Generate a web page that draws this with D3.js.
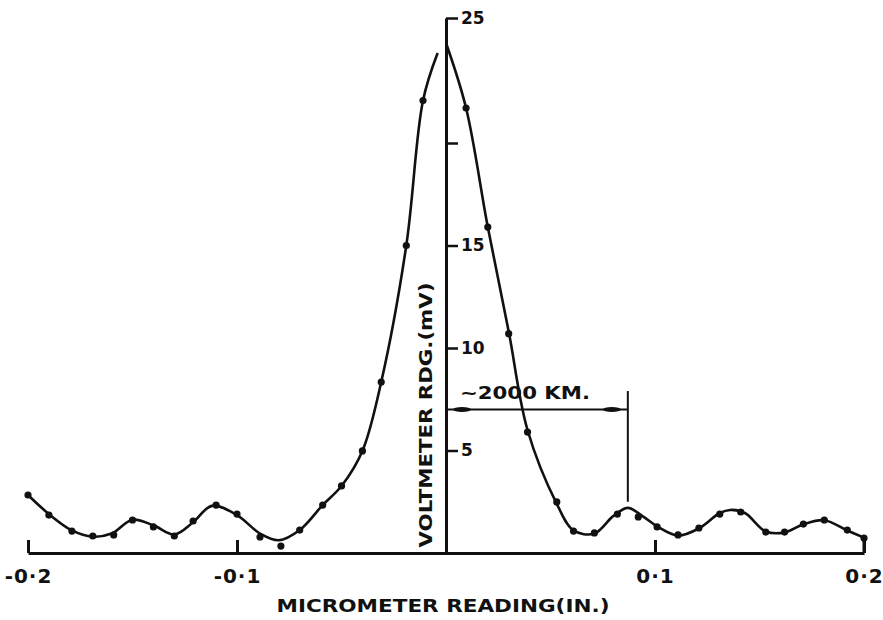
<!DOCTYPE html>
<html>
<head>
<meta charset="utf-8">
<script src="https://cdn.jsdelivr.net/npm/d3@7"></script>
<style>
  body { margin: 0; background: #fff; }
  text { font-family: "DejaVu Sans", sans-serif; font-weight: bold; fill: #111; }
</style>
</head>
<body>
<div id="canvas"></div>
<script>
const width = 883;
const height = 620;

// measured points (micrometer reading in inches, voltmeter reading in mV)
const leftX = [-0.200, -0.190, -0.179, -0.169, -0.159, -0.150, -0.140, -0.130, -0.121, -0.110,
               -0.100, -0.089, -0.079, -0.070, -0.059, -0.050, -0.040, -0.031, -0.019, -0.011];
const leftY = [2.83, 1.85, 1.07, 0.83, 0.88, 1.61, 1.27, 0.83, 1.56, 2.34,
               1.90, 0.78, 0.34, 1.12, 2.34, 3.27, 4.98, 8.34, 15.0, 21.7];
const rightX = [0.0096, 0.020, 0.030, 0.039, 0.053, 0.061, 0.071, 0.082, 0.092, 0.101,
                0.111, 0.121, 0.131, 0.141, 0.153, 0.162, 0.171, 0.181, 0.192, 0.200];
const rightY = [21.4, 15.9, 10.7, 5.9, 2.49, 1.07, 0.98, 1.90, 1.76, 1.27,
                0.88, 1.22, 1.90, 2.0, 1.02, 1.02, 1.41, 1.61, 1.12, 0.73];

// hand drawn smooth curve
const fitLeftX = [-0.200, -0.190, -0.179, -0.169, -0.160, -0.150, -0.140, -0.130, -0.121, -0.112,
                  -0.100, -0.089, -0.080, -0.070, -0.059, -0.050, -0.040, -0.031, -0.019, -0.011, -0.004];
const fitLeftY = [2.83, 1.9, 1.1, 0.8, 0.95, 1.62, 1.35, 0.9, 1.5, 2.3,
                  1.85, 0.95, 0.62, 1.12, 2.34, 3.27, 4.98, 8.34, 15.0, 21.7, 23.6];
const fitRightX = [0.000, 0.0096, 0.020, 0.030, 0.039, 0.053, 0.061, 0.071, 0.080, 0.087,
                   0.094, 0.101, 0.111, 0.121, 0.131, 0.136, 0.143, 0.153, 0.162, 0.171,
                   0.181, 0.192, 0.200];
const fitRightY = [24.0, 21.4, 15.9, 10.8, 6.0, 2.4, 1.1, 0.95, 1.8, 2.2,
                   1.8, 1.3, 0.85, 1.2, 1.95, 2.1, 1.95, 1.05, 1.0, 1.4,
                   1.6, 1.1, 0.75];

const xTicks = [-0.2, -0.1, 0.1, 0.2];
const xTickLabels = ["-0·2", "-0·1", "0·1", "0·2"];
const yTicks = [5, 10, 15, 20, 25];
const yTickLabels = ["5", "10", "15", "", "25"];

const svg = d3.select("#canvas")
    .append("svg")
    .attr("width", width)
    .attr("height", height);

const x = d3.scaleLinear().domain([-0.2, 0.2]).range([28, 864]);
// scale on the original drawing is stretched at the very top
const y = d3.scaleLinear().domain([0, 20, 25]).range([553, 143, 18]);

// x axis, ticks pointing up
const xAxis = svg.append("g")
    .attr("transform", `translate(0,${y(0)})`)
    .call(d3.axisBottom(x)
        .tickValues(xTicks)
        .tickSizeInner(-13)
        .tickSizeOuter(0)
        .tickFormat((d, i) => xTickLabels[i]));
xAxis.select(".domain").attr("stroke", "#111").attr("stroke-width", 3);
xAxis.selectAll(".tick line").attr("stroke", "#111").attr("stroke-width", 3);
xAxis.selectAll(".tick text")
    .attr("y", 30)
    .attr("dy", 0)
    .attr("font-size", 20)
    .attr("letter-spacing", 1)
    .attr("fill", "#111");

// y axis at x = 0
const yAxis = svg.append("g")
    .attr("transform", `translate(${x(0)},0)`)
    .call(d3.axisRight(y)
        .tickValues(yTicks)
        .tickSizeInner(12)
        .tickSizeOuter(0)
        .tickPadding(3)
        .tickFormat((d, i) => yTickLabels[i]));
yAxis.select(".domain").attr("stroke", "#111").attr("stroke-width", 3);
yAxis.selectAll(".tick line").attr("stroke", "#111").attr("stroke-width", 2.5);
yAxis.selectAll(".tick text")
    .attr("font-size", 17)
    .attr("fill", "#111");

// smooth curves
const line = d3.line()
    .x(d => x(d[0]))
    .y(d => y(d[1]))
    .curve(d3.curveCatmullRom.alpha(0.5));

svg.append("path")
    .attr("d", line(fitLeftX.map((v, i) => [v, fitLeftY[i]])))
    .attr("fill", "none")
    .attr("stroke", "#111")
    .attr("stroke-width", 2.6);

svg.append("path")
    .attr("d", line(fitRightX.map((v, i) => [v, fitRightY[i]])))
    .attr("fill", "none")
    .attr("stroke", "#111")
    .attr("stroke-width", 2.6);

// data dots
const pts = leftX.map((v, i) => [v, leftY[i]]).concat(rightX.map((v, i) => [v, rightY[i]]));
svg.selectAll(".dot")
    .data(pts)
    .enter()
    .append("circle")
    .attr("class", "dot")
    .attr("cx", d => x(d[0]))
    .attr("cy", d => y(d[1]))
    .attr("r", 3.6)
    .attr("fill", "#111");

// last point sits on a stalk down to the axis
svg.append("line")
    .attr("x1", x(0.2)).attr("x2", x(0.2))
    .attr("y1", y(0)).attr("y2", y(0.73))
    .attr("stroke", "#111").attr("stroke-width", 3);

// ~2000 km marker
const spanY = 7.0;
svg.append("line")
    .attr("x1", x(0)).attr("x2", x(0.087))
    .attr("y1", y(spanY)).attr("y2", y(spanY))
    .attr("stroke", "#111").attr("stroke-width", 2);
svg.append("line")
    .attr("x1", x(0.087)).attr("x2", x(0.087))
    .attr("y1", y(7.9)).attr("y2", y(2.5))
    .attr("stroke", "#111").attr("stroke-width", 2);
svg.append("ellipse")
    .attr("cx", x(0) + 16).attr("cy", y(spanY))
    .attr("rx", 9).attr("ry", 2.5).attr("fill", "#111");
svg.append("ellipse")
    .attr("cx", x(0.087) - 16).attr("cy", y(spanY))
    .attr("rx", 9).attr("ry", 2.5).attr("fill", "#111");
svg.append("text")
    .attr("x", 460)
    .attr("y", y(spanY) - 11)
    .attr("font-size", 17)
    .attr("textLength", 130)
    .attr("lengthAdjust", "spacingAndGlyphs")
    .text("~2000 KM.");

// axis titles
svg.append("text")
    .attr("x", 443)
    .attr("y", 612)
    .attr("text-anchor", "middle")
    .attr("font-size", 17)
    .attr("textLength", 333)
    .attr("lengthAdjust", "spacingAndGlyphs")
    .text("MICROMETER READING(IN.)");

svg.append("text")
    .attr("transform", "translate(432,415) rotate(-90)")
    .attr("text-anchor", "middle")
    .attr("font-size", 17)
    .attr("textLength", 265)
    .attr("lengthAdjust", "spacingAndGlyphs")
    .text("VOLTMETER RDG.(mV)");
</script>
</body>
</html>
